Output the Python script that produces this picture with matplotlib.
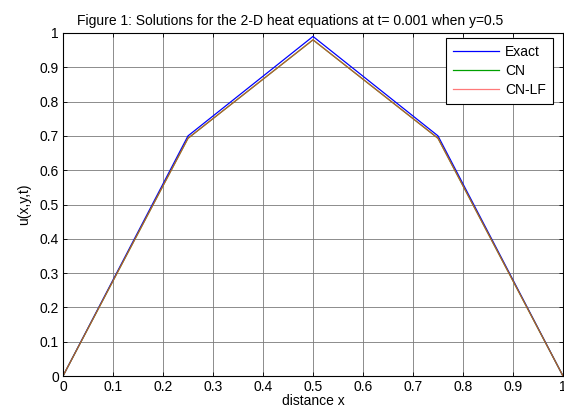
import numpy as np
import matplotlib
matplotlib.use("Agg")
import matplotlib.pyplot as plt

plt.rcParams['font.family'] = ['Liberation Sans', 'DejaVu Sans']

# data
xNodes = [0.0, 0.25, 0.5, 0.75, 1.0]
exactVals = [0.0, 0.700, 0.990, 0.700, 0.0]
cnVals = [0.0, 0.693, 0.980, 0.693, 0.0]
cnlfVals = [0.0, 0.693, 0.980, 0.693, 0.0]

xTicks = [0, 0.1, 0.2, 0.3, 0.4, 0.5, 0.6, 0.7, 0.8, 0.9, 1]
xTickLabels = ["0", "0.1", "0.2", "0.3", "0.4", "0.5", "0.6", "0.7", "0.8", "0.9", "1"]
yTicks = [0, 0.1, 0.2, 0.3, 0.4, 0.5, 0.6, 0.7, 0.8, 0.9, 1]
yTickLabels = ["0", "0.1", "0.2", "0.3", "0.4", "0.5", "0.6", "0.7", "0.8", "0.9", "1"]

fs = 10

fig = plt.figure(figsize=(5.64, 4.13), dpi=100)
ax = fig.add_axes([63 / 564, 37 / 413, 500 / 564, 343 / 413])

ax.plot(xNodes, exactVals, color="blue", lw=0.9, label="Exact")
ax.plot(xNodes, cnVals, color="#00a000", lw=0.9, label="CN")
ax.plot(xNodes, cnlfVals, color="#ff4040", lw=0.9, label="CN-LF", alpha=0.7)

ax.set_xlim(0, 1)
ax.set_ylim(0, 1)
ax.set_xticks(xTicks)
ax.set_xticklabels(xTickLabels, fontsize=fs)
ax.set_yticks(yTicks)
ax.set_yticklabels(yTickLabels, fontsize=fs)
ax.tick_params(direction="in", top=True, right=True, length=3, width=0.6, pad=3)
ax.grid(True, color="#7a7a7a", linestyle="-", linewidth=0.6)
ax.set_axisbelow(True)
for sp in ax.spines.values():
    sp.set_linewidth(0.8)

ax.set_xlabel("distance x", fontsize=fs, labelpad=0)
ax.set_ylabel("u(x,y,t)", fontsize=fs, labelpad=6)
ax.set_title("Figure 1: Solutions for the 2-D heat equations at t= 0.001 when y=0.5",
             fontsize=fs, pad=6, x=0.454)

leg = ax.legend(loc="upper right", bbox_to_anchor=(0.98, 0.985), borderaxespad=0,
                fontsize=fs, fancybox=False, framealpha=1, edgecolor="black",
                handlelength=3.3, handletextpad=0.45, labelspacing=0.35,
                borderpad=0.5)
leg.get_frame().set_linewidth(0.8)

fig.savefig("out.png", dpi=100)
